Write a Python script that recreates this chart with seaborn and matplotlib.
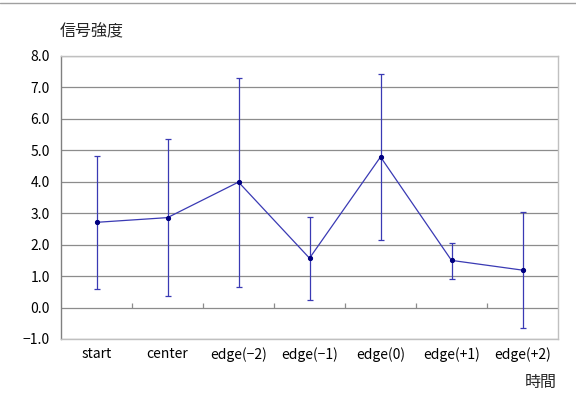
import matplotlib
matplotlib.use("Agg")
import matplotlib.pyplot as plt
from matplotlib.lines import Line2D
import numpy as np
import pandas as pd
import seaborn as sns

# Signal strength over time: mean with min/max range
categories = ["start", "center", "edge(\u22122)", "edge(\u22121)", "edge(0)", "edge(+1)", "edge(+2)"]
means = [2.71, 2.86, 3.99, 1.57, 4.79, 1.50, 1.19]
upper = [4.82, 5.35, 7.31, 2.89, 7.42, 2.06, 3.05]
lower = [0.58, 0.37, 0.66, 0.23, 2.15, 0.91, -0.66]
y_ticks = [-1.0, 0.0, 1.0, 2.0, 3.0, 4.0, 5.0, 6.0, 7.0, 8.0]

sns.set_theme(style="white")
plt.rcParams["font.family"] = ["Noto Sans CJK JP", "DejaVu Sans"]

df = pd.DataFrame({"time": categories, "signal": means})

fig = plt.figure(figsize=(5.76, 3.94), dpi=100)
ax = fig.add_axes([0.1059, 0.1396, 0.8629, 0.7183])

line_color = "#3a3ab4"
marker_color = "#000080"

# horizontal gridlines
for v in y_ticks:
    ax.axhline(v, color="#8c8c8c", lw=0.9, zorder=0)

sns.lineplot(data=df, x="time", y="signal", ax=ax, color=line_color, lw=0.9,
             marker="o", markersize=3.0, markerfacecolor=marker_color,
             markeredgecolor=marker_color, zorder=3, sort=False)

x = np.arange(len(categories))
m = np.array(means)
yerr = np.vstack([m - np.array(lower), np.array(upper) - m])
ax.errorbar(x, m, yerr=yerr, fmt="none", ecolor=line_color, elinewidth=0.9,
            capsize=2.2, capthick=0.9, zorder=2)

# category boundary ticks on the zero line
ax.vlines(np.arange(0.5, len(categories) - 0.5), 0, 0.13, color="#8c8c8c", lw=0.9, zorder=1)

ax.set_xlim(-0.5, len(categories) - 0.5)
ax.set_ylim(-1.0, 8.0)
ax.set_yticks(y_ticks)
ax.set_yticklabels([f"{v:.1f}".replace("-", "\u2212") for v in y_ticks])
ax.set_xticks(x)
ax.set_xticklabels(categories)
ax.tick_params(axis="both", length=0, labelsize=10, colors="#000000")
ax.tick_params(axis="x", pad=6)
ax.tick_params(axis="y", pad=8)
ax.set_xlabel("")
ax.set_ylabel("")

for name in ["top", "right", "bottom"]:
    ax.spines[name].set_color("#c0c0c0")
    ax.spines[name].set_linewidth(1.0)
ax.spines["left"].set_color("#808080")
ax.spines["left"].set_linewidth(1.0)

fig.text(0.1042, 0.919, "信号強度", fontsize=11.5, ha="left", va="center")
fig.text(0.967, 0.028, "時間", fontsize=11.5, ha="right", va="center")

# thin rule across the top of the figure
fig.add_artist(Line2D([0, 1], [0.992, 0.992], transform=fig.transFigure,
                      color="#a0a0a0", lw=1.0))

fig.savefig("out.png", dpi=100, facecolor="white")
